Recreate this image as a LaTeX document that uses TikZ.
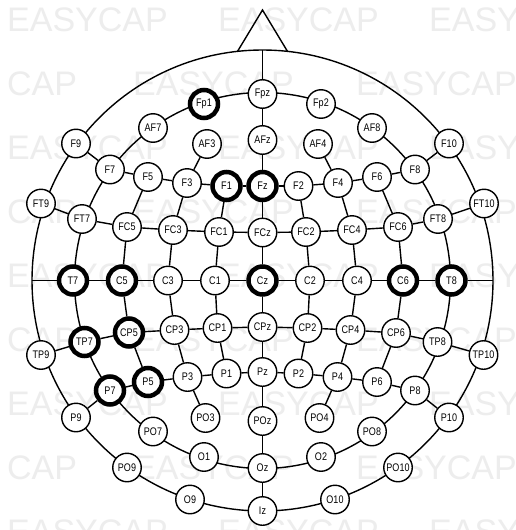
\documentclass[tikz,border=0pt]{standalone}
\usepackage{fontspec}
\setmainfont{Liberation Sans}
\newfontfamily\elfont{Liberation Sans}[FakeStretch=0.82]
\usetikzlibrary{backgrounds}
\begin{document}
\begin{tikzpicture}[x=1pt,y=-1pt,
  el/.style={circle,draw,fill=white,line width=1.4pt,minimum size=28.5pt,inner sep=0pt,
             font=\elfont\fontsize{11}{12}\selectfont},
  hl/.style={el,line width=4.5pt,minimum size=28pt},
  link/.style={line width=1.4pt},
  wm/.style={anchor=base west,inner sep=0pt,text=black!7,font=\fontsize{34}{40}\selectfont}]
\useasboundingbox (0,0) rectangle (515,530);
% named points
\coordinate (ctr) at (262.5,280.5);
\coordinate (L) at (32,280.5);
\coordinate (R) at (493,280.5);
\coordinate (ntop) at (262.5,50);
\coordinate (nl) at (237.5,51.4);
\coordinate (na) at (262.5,10);
\coordinate (nr) at (287.5,51.4);
% midline
\node[el] (Fpz) at (262.5,94) {Fpz};
\node[el] (AFz) at (262.5,140) {AFz};
\node[hl] (Fz) at (262.5,186) {Fz};
\node[el] (FCz) at (262.5,232.5) {FCz};
\node[hl] (Cz) at (262.5,280.5) {Cz};
\node[el] (CPz) at (262.5,327) {CPz};
\node[el] (Pz) at (262.5,372) {Pz};
\node[el] (POz) at (262.5,421) {POz};
\node[el] (Oz) at (262.5,468) {Oz};
\node[el] (Iz) at (262.5,511) {Iz};
% left
\node[hl] (Fp1) at (204,104) {Fp1};
\node[el] (AF7) at (153,128) {AF7};
\node[el] (AF3) at (207,144) {AF3};
\node[el] (F9) at (76,143.5) {F9};
\node[el] (F7) at (110,169.5) {F7};
\node[el] (F5) at (148,177) {F5};
\node[el] (F3) at (187,183) {F3};
\node[hl] (F1) at (226.5,186) {F1};
\node[el] (FT9) at (41,203.5) {FT9};
\node[el] (FT7) at (82,219) {FT7};
\node[el] (FC5) at (127,227) {FC5};
\node[el] (FC3) at (173,230) {FC3};
\node[el] (FC1) at (219,232) {FC1};
\node[hl] (T7) at (73,280.5) {T7};
\node[hl] (C5) at (122,280.5) {C5};
\node[el] (C3) at (168,280.5) {C3};
\node[el] (C1) at (215,280.5) {C1};
\node[el] (TP9) at (41,355) {TP9};
\node[hl] (TP7) at (84.5,342) {TP7};
\node[hl] (CP5) at (129,332.5) {CP5};
\node[el] (CP3) at (174.5,330) {CP3};
\node[el] (CP1) at (217.5,328) {CP1};
\node[el] (P9) at (76,417.5) {P9};
\node[hl] (P7) at (110,390.5) {P7};
\node[hl] (P5) at (148,382) {P5};
\node[el] (P3) at (187.5,377) {P3};
\node[el] (P1) at (226.5,373.5) {P1};
\node[el] (PO9) at (127,467.5) {PO9};
\node[el] (PO7) at (153,431.5) {PO7};
\node[el] (PO3) at (205.5,418) {PO3};
\node[el] (O9) at (190,499.5) {O9};
\node[el] (O1) at (204,457) {O1};
% right
\node[el] (Fp2) at (321,104) {Fp2};
\node[el] (AF8) at (372,128) {AF8};
\node[el] (AF4) at (318,144) {AF4};
\node[el] (F10) at (449,143.5) {F10};
\node[el] (F8) at (415,169.5) {F8};
\node[el] (F6) at (377,177) {F6};
\node[el] (F4) at (338,183) {F4};
\node[el] (F2) at (298.5,186) {F2};
\node[el] (FT10) at (484,203.5) {FT10};
\node[el] (FT8) at (438,219) {FT8};
\node[el] (FC6) at (398,227) {FC6};
\node[el] (FC4) at (352,230) {FC4};
\node[el] (FC2) at (306,232) {FC2};
\node[hl] (T8) at (451.5,280.5) {T8};
\node[hl] (C6) at (403,280.5) {C6};
\node[el] (C4) at (357,280.5) {C4};
\node[el] (C2) at (310,280.5) {C2};
\node[el] (TP10) at (483.5,355) {TP10};
\node[el] (TP8) at (437.5,342) {TP8};
\node[el] (CP6) at (396,333) {CP6};
\node[el] (CP4) at (350.5,330) {CP4};
\node[el] (CP2) at (307.5,328) {CP2};
\node[el] (P10) at (449,417.5) {P10};
\node[el] (P8) at (415,390.5) {P8};
\node[el] (P6) at (377,382) {P6};
\node[el] (P4) at (337.5,377) {P4};
\node[el] (P2) at (298.5,373.5) {P2};
\node[el] (PO10) at (398,467.5) {PO10};
\node[el] (PO8) at (372,431.5) {PO8};
\node[el] (PO4) at (319.5,418) {PO4};
\node[el] (O10) at (335,499.5) {O10};
\node[el] (O2) at (321,457) {O2};

\begin{scope}[on background layer]
  \fill[white] (0,0) rectangle (515,530);
  \begin{scope}
    \clip (0,0) rectangle (515,530);
    \foreach \k in {0,2,4,6,8} {
      \node[wm] (wa\k) at (7,{31+64*\k}) {EASYCAP};
      \node[wm] (wb\k) at (218,{31+64*\k}) {EASYCAP};
      \node[wm] (wc\k) at (429,{31+64*\k}) {EASY};
    }
    \foreach \k in {1,3,5,7} {
      \node[wm] (wa\k) at (7,{31+64*\k}) {CAP};
      \node[wm] (wb\k) at (133,{31+64*\k}) {EASYCAP};
      \node[wm] (wc\k) at (356,{31+64*\k}) {EASYCAP};
    }
  \end{scope}
  % head outline and equator
  \draw[link] (ctr) circle[radius=230.5pt];
  \draw[link] (ctr) circle[radius=188pt];
  % nose
  \draw[link,line join=miter] (nl) -- (na) -- (nr);
  % midline
  \draw[link] (ntop) -- (Fpz);
  \foreach \a/\b in {Fpz/AFz,AFz/Fz,Fz/FCz,FCz/Cz,Cz/CPz,CPz/Pz,Pz/POz,POz/Oz,Oz/Iz}
    \draw[link] (\a) -- (\b);
  % transverse rows
  \foreach \a/\b in {F9/F7,F7/F5,F5/F3,F3/F1,F1/Fz,Fz/F2,F2/F4,F4/F6,F6/F8,F8/F10,
                     FT9/FT7,FT7/FC5,FC5/FC3,FC3/FC1,FC1/FCz,FCz/FC2,FC2/FC4,FC4/FC6,FC6/FT8,FT8/FT10,
                     L/T7,T7/C5,C5/C3,C3/C1,C1/Cz,Cz/C2,C2/C4,C4/C6,C6/T8,T8/R,
                     TP9/TP7,TP7/CP5,CP5/CP3,CP3/CP1,CP1/CPz,CPz/CP2,CP2/CP4,CP4/CP6,CP6/TP8,TP8/TP10,
                     P9/P7,P7/P5,P5/P3,P3/P1,P1/Pz,Pz/P2,P2/P4,P4/P6,P6/P8,P8/P10}
    \draw[link] (\a) -- (\b);
  % longitudinal lines
  \foreach \a/\b in {AF3/F3,F3/FC3,FC3/C3,C3/CP3,CP3/P3,P3/PO3,
                     AF4/F4,F4/FC4,FC4/C4,C4/CP4,CP4/P4,P4/PO4,
                     F1/FC1,FC1/C1,C1/CP1,CP1/P1,
                     F2/FC2,FC2/C2,C2/CP2,CP2/P2,
                     F5/FC5,FC5/C5,C5/CP5,CP5/P5,
                     F6/FC6,FC6/C6,C6/CP6,CP6/P6}
    \draw[link] (\a) -- (\b);
\end{scope}
\end{tikzpicture}
\end{document}
